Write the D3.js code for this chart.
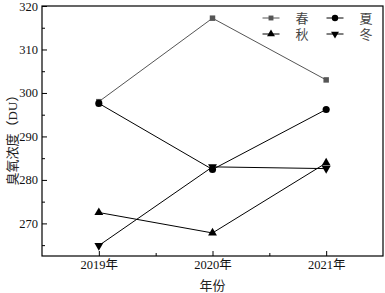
<!DOCTYPE html>
<html>
<head>
<meta charset="UTF-8">
<script src="https://d3js.org/d3.v7.min.js"></script>
<style>
  body { margin: 0; background: #fff; }
  text { font-family: "Liberation Serif", "Noto Sans CJK SC", serif; }
</style>
</head>
<body>
<div id="chart"></div>
<script>
  // data
  const years = [2019, 2020, 2021];
  const yearLabels = ["2019年", "2020年", "2021年"];
  const spring = [298.0, 317.2, 303.0];
  const summer = [297.6, 282.4, 296.2];
  const autumn = [272.5, 267.8, 283.9];
  const winter = [264.9, 283.0, 282.6];
  const yTicks = [270, 280, 290, 300, 310, 320];

  const series = [
    { name: "春", values: spring, symbol: d3.symbolSquare, color: "#555", size: 30 },
    { name: "夏", values: summer, symbol: d3.symbolCircle, color: "#000", size: 40 },
    { name: "秋", values: autumn, symbol: d3.symbolTriangle, color: "#000", size: 34 },
    { name: "冬", values: winter, symbol: d3.symbolTriangle, color: "#000", size: 34, flip: true }
  ];

  const W = 385, H = 293;
  const margin = { top: 6, right: 2, bottom: 37, left: 42 };
  const width = W - margin.left - margin.right;
  const height = H - margin.top - margin.bottom;

  const svg = d3.select("#chart").append("svg")
    .attr("width", W).attr("height", H);
  const g = svg.append("g").attr("transform", `translate(${margin.left},${margin.top})`);

  const x = d3.scaleLinear().domain([2018.5, 2021.5]).range([0, width]);
  const y = d3.scaleLinear().domain([262.5, 320]).range([height, 0]);

  // frame
  g.append("rect").attr("width", width).attr("height", height)
    .attr("fill", "none").attr("stroke", "#000").attr("stroke-width", 1.2);

  // axes with inward ticks
  g.append("g").attr("transform", `translate(0,${height})`)
    .call(d3.axisBottom(x).tickValues(years).tickSize(-5).tickPadding(4)
      .tickFormat((d, i) => yearLabels[i]));
  g.append("g").attr("transform", `translate(0,${height})`)
    .call(d3.axisBottom(x).tickValues([2019.5, 2020.5]).tickSize(-3).tickFormat(""));
  g.append("g")
    .call(d3.axisLeft(y).tickValues(yTicks).tickSize(-5).tickPadding(4));
  g.append("g")
    .call(d3.axisLeft(y).tickValues([265, 275, 285, 295, 305, 315]).tickSize(-3).tickFormat(""));
  g.selectAll(".domain").remove();
  g.selectAll(".tick line").attr("stroke", "#000");
  g.selectAll(".tick text").attr("font-size", 12.5).attr("fill", "#111")
    .attr("font-family", "'Liberation Serif', 'Noto Sans CJK SC', serif");

  // lines and markers
  const line = d3.line().x((d, i) => x(years[i])).y(d => y(d));
  series.forEach(s => {
    g.append("path").datum(s.values)
      .attr("fill", "none").attr("stroke", s.color).attr("stroke-width", 1)
      .attr("d", line);
  });
  series.forEach(s => {
    g.selectAll(null).data(s.values).enter().append("path")
      .attr("d", d3.symbol().type(s.symbol).size(s.size))
      .attr("transform", (d, i) => `translate(${x(years[i])},${y(d)})${s.flip ? " rotate(180)" : ""}`)
      .attr("fill", s.color);
  });

  // legend
  const legPos = [[262.5, 18], [326.5, 18], [262.5, 34], [326.5, 34]];
  series.forEach((s, i) => {
    const [lx, ly] = legPos[i];
    const lg = svg.append("g").attr("transform", `translate(${lx},${ly})`);
    lg.append("line").attr("x1", 0).attr("x2", 17).attr("stroke", s.color).attr("stroke-width", 1);
    lg.append("path").attr("d", d3.symbol().type(s.symbol).size(s.size * 0.8))
      .attr("transform", `translate(8.5,0)${s.flip ? " rotate(180)" : ""}`)
      .attr("fill", s.color);
    lg.append("text").attr("x", 33).attr("y", 0).attr("dy", "0.36em")
      .attr("font-size", 13).attr("fill", "#444")
      .attr("font-family", "'Noto Sans CJK SC', sans-serif")
      .text(s.name);
  });

  // axis titles
  svg.append("text")
    .attr("x", margin.left + x(2020)).attr("y", 290)
    .attr("text-anchor", "middle").attr("font-size", 13).attr("fill", "#222")
    .attr("font-family", "'Noto Sans CJK SC', sans-serif")
    .text("年份");
  svg.append("text")
    .attr("transform", `translate(12,137) rotate(-90)`)
    .attr("text-anchor", "middle").attr("dy", "0.35em").attr("font-size", 13).attr("fill", "#222")
    .attr("font-family", "'Noto Sans CJK SC', sans-serif")
    .text("臭氧浓度（DU）");
</script>
</body>
</html>
